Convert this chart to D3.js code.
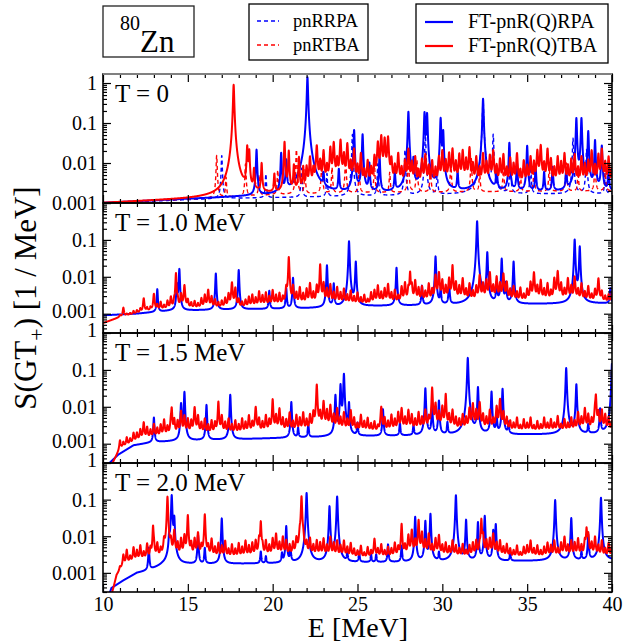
<!DOCTYPE html>
<html>
<head>
<meta charset="utf-8">
<script src="https://cdn.jsdelivr.net/npm/d3@7"></script>
<style>
  body { margin: 0; background: #fff; }
  svg { display: block; }
  text { font-family: "Liberation Serif", "Times New Roman", Times, serif; fill: #000; }
</style>
</head>
<body>
<svg id="chart" width="624" height="644"></svg>
<script>
// ---------------------------------------------------------------
// Gamow-Teller (GT+) strength functions of 80Zn at four temperatures
// Each curve = smooth background (knots [E, S]) + discrete states
// [E, peak height], folded with a narrow Lorentzian. The TBA curves
// also carry a comb of fragmented states every 0.2 MeV (heights in 1e-3 /MeV).
// ---------------------------------------------------------------

const energyTicks = [10, 15, 20, 25, 30, 35, 40];
const panelLabels = ["T = 0", "T = 1.0 MeV", "T = 1.5 MeV", "T = 2.0 MeV"];
const yTickLabels = [1, 0.1, 0.01, 0.001];
const seriesNames = ["pnRRPA", "pnRTBA", "FT-pnR(Q)RPA", "FT-pnR(Q)TBA"];

// ---------- T = 0 : pnRRPA (dashed blue) ----------
const rrpaT0Base = [[10, 0.001], [17, 0.0013], [22, 0.0014], [30, 0.0016], [40, 0.0017]];
const rrpaT0Peaks = [[17.0, 0.014], [19.6, 0.004], [21.7, 0.006], [23.2, 0.004], [24.7, 0.05],
  [26.2, 0.008], [27.8, 0.02], [29.0, 0.05], [29.7, 0.004], [32.4, 0.4], [33.0, 0.05],
  [34.0, 0.01], [35.2, 0.008], [37.7, 0.04], [38.5, 0.02], [39.6, 0.004]];

// ---------- T = 0 : pnRTBA (dashed red) ----------
const rtbaT0Base = [[10, 0.001], [16, 0.0013], [20, 0.0016], [25, 0.0018], [40, 0.002]];
const rtbaT0Peaks = [[16.7, 0.014], [17.25, 0.003], [18.4, 0.008], [19.2, 0.0035], [20.3, 0.005],
  [21.4, 0.02], [21.9, 0.005], [22.9, 0.01], [23.5, 0.006], [24.3, 0.012], [25.1, 0.005],
  [26.0, 0.007], [26.9, 0.004], [28.0, 0.012], [28.5, 0.01], [29.3, 0.006], [30.5, 0.008],
  [31.7, 0.012], [32.2, 0.004], [33.6, 0.006], [34.6, 0.004], [35.4, 0.005], [36.3, 0.006],
  [37.3, 0.008], [38.0, 0.004], [39.0, 0.008], [39.6, 0.005]];

// ---------- T = 0 : FT-pnR(Q)RPA (solid blue) ----------
const ftRpaT0Base = [[10, 0.001], [15, 0.00125], [18, 0.0014], [21, 0.0015], [25, 0.0017], [30, 0.0018], [40, 0.0019]];
const ftRpaT0Peaks = [[19.05, 0.02], [20.5, 0.016], [20.8, 0.01], [22.05, 1.4], [23.0, 0.003],
  [23.9, 0.005], [24.8, 0.065], [25.3, 0.05], [25.7, 0.008], [26.3, 0.013], [27.2, 0.004],
  [28.0, 0.19], [28.3, 0.01], [28.95, 0.18], [29.1, 0.17], [29.9, 0.13], [30.05, 0.06],
  [30.9, 0.004], [32.4, 0.4], [33.2, 0.006], [33.95, 0.03], [34.4, 0.008], [35.0, 0.025],
  [35.5, 0.006], [36.0, 0.004], [36.5, 0.006], [37.3, 0.005], [37.9, 0.13], [38.2, 0.13],
  [38.6, 0.06], [39.0, 0.035], [39.4, 0.025], [39.8, 0.005]];

// ---------- T = 0 : FT-pnR(Q)TBA (solid red) ----------
const ftTbaT0Base = [[10, 0.001], [15, 0.00125], [17, 0.0014], [19, 0.0016], [21, 0.0017], [24, 0.0018], [40, 0.0019]];
const ftTbaT0Peaks = [[17.7, 0.9], [18.5, 0.024], [18.62, 0.018], [18.9, 0.005], [19.35, 0.008],
  [20.1, 0.0035], [20.7, 0.032], [20.95, 0.018], [21.25, 0.007], [21.55, 0.012], [21.8, 0.006]];
const ftTbaT0FragStart = 22.0;
const ftTbaT0Frag = [
  6, 12, 5, 25, 9,     18, 6, 22, 30, 10,    35, 14, 28, 8, 20,    6, 15, 4, 9, 5,
  12, 30, 45, 38, 42,  10, 6, 15, 5, 9,      20, 8, 12, 4, 10,     14, 6, 9, 5, 12,
  18, 9, 15, 20, 8,    14, 18, 10, 22, 7,    12, 5, 15, 8, 13,     18, 6, 10, 14, 5,
  11, 7, 15, 4, 9,     6, 12, 8, 18, 25,     7, 20, 10, 5, 12,     8, 15, 6, 10, 14,
  5, 12, 7, 9, 18,     6, 14, 20, 8, 12,     5];

// ---------- T = 1.0 MeV ----------
const ftRpaT10Base = [[10, 0.0009], [12, 0.001], [14, 0.0012], [18, 0.0013], [22, 0.0014], [26, 0.0016], [30, 0.0017], [35, 0.0018], [40, 0.0019]];
const ftRpaT10Peaks = [[13.2, 0.0035], [14.35, 0.005], [14.5, 0.015], [16.65, 0.011], [18.0, 0.014],
  [19.8, 0.0028], [20.8, 0.0035], [21.2, 0.008], [23.2, 0.019], [23.6, 0.005], [24.5, 0.09],
  [24.9, 0.024], [27.3, 0.016], [28.8, 0.004], [29.6, 0.034], [29.9, 0.003], [30.4, 0.005],
  [32.05, 0.32], [32.65, 0.044], [33.2, 0.005], [33.5, 0.029], [33.75, 0.005], [34.2, 0.024],
  [37.8, 0.1], [38.1, 0.064], [39.9, 0.003]];
const ftTbaT10Base = [[10, 0.00055], [11, 0.0008], [12, 0.001], [13, 0.0012], [15, 0.0013], [20, 0.0014], [25, 0.0016], [30, 0.0018], [40, 0.0019]];
const ftTbaT10Peaks = [[14.3, 0.011], [20.95, 0.032], [22.8, 0.018], [28.1, 0.011], [30.6, 0.015]];
const ftTbaT10FragStart = 10.0;
const ftTbaT10Frag = [
  0, 0, 0, 0, 0,           0.1, 0.6, 0.1, 0.1, 0.2,   0.2, 0.3, 1.5, 0.3, 0.3,   2.2, 0.5, 0.8, 0.4, 0.9,
  1.5, 0.8, 1, 2, 4.5,     1, 0.6, 0.8, 0.5, 1.2,     1.8, 3, 1.5, 1, 0.6,       0.8, 1.2, 2, 5.5, 3.5,
  1, 0.6, 0.9, 1.4, 1.8,   1.2, 2.5, 1.6, 2.2, 1.4,   2.8, 1.6, 2, 1.2, 3.2,     1.5, 4, 2, 3.5, 1.8,
  3, 5, 2, 4, 2,           5, 3, 4.5, 2, 3.5,         2, 3, 1.5, 2.5, 1.2,       2, 1, 1.5, 0.7, 2,
  2.5, 4, 2, 3, 4.5,       1.8, 2.5, 1.2, 3.5, 5,     3, 4, 6, 3, 3.5,           2, 4.5, 2.5, 9, 11,
  6, 3.5, 7, 3.5, 5,       3.5, 7, 2.5, 4.5, 2,       3.5, 9, 4.5, 6, 11,        3.5, 8, 4.5, 10, 5,
  2.5, 3.5, 1.8, 3, 1.3,   2.5, 5, 11, 3.5, 6,        2.5, 4.5, 2, 7, 12,        4.5, 2.5, 7, 3.5, 8,
  2.5, 4.5, 1.8, 3.5, 1.3, 2.5, 7, 2, 1, 1.3,         2];

// ---------- T = 1.5 MeV ----------
const ftRpaT15Base = [[10, 0.0002], [10.9, 0.0005], [11.8, 0.0009], [13, 0.0011], [15, 0.0012], [20, 0.0014], [26, 0.0016], [30, 0.0017], [40, 0.0018]];
const ftRpaT15Peaks = [[13.0, 0.004], [14.6, 0.011], [14.8, 0.024], [16.1, 0.01], [17.5, 0.02],
  [21.1, 0.012], [21.5, 0.0012], [22.1, 0.002], [23.7, 0.019], [24.0, 0.038], [24.2, 0.076],
  [24.5, 0.011], [25.0, 0.002], [26.5, 0.007], [27.5, 0.002], [28.3, 0.0015], [29.0, 0.03],
  [29.4, 0.009], [29.8, 0.013], [30.3, 0.002], [31.5, 0.21], [32.1, 0.032], [32.9, 0.024],
  [33.2, 0.004], [33.55, 0.029], [33.9, 0.002], [37.3, 0.11], [37.9, 0.039], [38.6, 0.0015],
  [39.3, 0.007], [40.0, 0.15]];
const ftTbaT15Base = [[10.4, 0.0002], [11, 0.0007], [12, 0.0011], [13, 0.0013], [15, 0.0015], [20, 0.0017], [25, 0.0018], [30, 0.0019], [40, 0.002]];
const ftTbaT15Peaks = [[14.05, 0.007], [16.8, 0.009], [20.0, 0.011], [22.6, 0.03], [29.4, 0.026], [30.2, 0.016], [39.05, 0.017]];
const ftTbaT15FragStart = 10.0;
const ftTbaT15Frag = [
  0, 0, 0, 0, 0,           0.5, 0.3, 0.6, 0.4, 0.9,   0.8, 1.2, 2.5, 1.5, 1,     2, 1.2, 1.8, 3, 1.4,
  2.5, 3, 2.5, 6, 4,       3, 2.5, 8, 4, 2,           3, 1.5, 2.5, 2, 3,         4, 2, 3, 1.5, 2.5,
  1.5, 3, 2, 4, 2,         8, 3, 2, 4, 2.5,           3, 4, 7, 3, 2.5,           5, 2, 4, 3, 5,
  2.5, 4, 5, 8, 5,         12, 6, 9, 4, 7,            3, 5, 2.5, 6, 3,           1.5, 4, 2, 3, 1.5,
  2, 1, 8, 3, 2,           4, 2.5, 5, 7, 3,           6, 4, 2.5, 5, 3,           6, 3, 5, 10, 5,
  8, 4, 4, 6, 3,           2.5, 4, 3, 7, 10,          6, 11, 4, 3, 6,            2.5, 8, 14, 5, 3,
  2, 1.5, 3, 1, 2.5,       1.5, 3, 1, 2, 1.2,         3, 1.5, 2.5, 1.5, 3.5,     1.2, 2.5, 1.5, 3, 2,
  5, 3, 7, 4, 2.5,         6, 5, 6, 4, 3,             2];

// ---------- T = 2.0 MeV ----------
const ftRpaT20Base = [[10.3, 0.0002], [10.5, 0.00037], [11.2, 0.0006], [12, 0.00097], [12.6, 0.0011], [13.5, 0.0015], [15, 0.0017], [20, 0.0018], [25, 0.0019], [30, 0.002], [35, 0.0021], [40, 0.0022]];
const ftRpaT20Peaks = [[12.7, 0.0037], [13.9, 0.007], [14.05, 0.13], [14.2, 0.03], [15.6, 0.009],
  [16.0, 0.003], [17.0, 0.029], [19.3, 0.002], [19.6, 0.001], [20.55, 0.0015], [20.8, 0.017],
  [21.05, 0.003], [22.0, 0.15], [23.35, 0.064], [23.8, 0.12], [24.4, 0.0015], [25.1, 0.0018],
  [25.8, 0.0012], [26.1, 0.0012], [26.8, 0.004], [27.6, 0.0035], [28.4, 0.032], [29.0, 0.024],
  [29.3, 0.039], [29.8, 0.0015], [30.8, 0.13], [31.4, 0.026], [32.1, 0.022], [32.5, 0.034],
  [33.0, 0.012], [33.15, 0.019], [34.0, 0.0015], [36.65, 0.095], [37.6, 0.029], [38.2, 0.0015],
  [38.6, 0.009], [39.35, 0.11]];
const ftTbaT20Base = [[10.5, 0.0002], [10.8, 0.0008], [11.2, 0.0015], [12, 0.0019], [15, 0.0021], [20, 0.0023], [25, 0.0023], [30, 0.0024], [40, 0.0024]];
const ftTbaT20Peaks = [[12.95, 0.016], [13.8, 0.11], [15.0, 0.03], [16.0, 0.032], [19.3, 0.022],
  [21.7, 0.12], [27.6, 0.014], [28.6, 0.018], [32.3, 0.026], [38.5, 0.013]];
const ftTbaT20FragStart = 10.0;
const ftTbaT20Frag = [
  0, 0, 0, 0, 0,           0.3, 1.5, 2.5, 1, 3,       2, 3.5, 1.5, 4, 2.5,       3, 4, 2, 5, 8,
  5, 12, 4, 6, 8,          5, 4, 6, 10, 3,            5, 3, 6, 2.5, 4,           3, 5, 2, 3.5, 2,
  4, 2.5, 5, 3, 4,         5, 6, 3, 5, 3,             6, 9, 4, 7, 5,             3, 4, 6, 8, 5,
  4, 6, 3, 5, 4,           6, 3, 7, 4, 5,             3, 5, 2.5, 4, 2,           1.5, 3, 1, 2.5, 1.5,
  6, 2, 3.5, 1.5, 2.5,     2, 4, 2.5, 5, 3,           8, 12, 5, 7, 10,           5, 9, 3, 6, 8,
  3, 4, 2.5, 5, 3,         2, 3.5, 1.5, 3, 4,         5, 3, 8, 5, 6,             9, 4, 5, 2.5, 3.5,
  2, 1.5, 3, 1, 2.5,       3, 5, 2, 3, 1.5,           2.5, 4, 3, 5, 2,           4, 7, 3, 5, 4,
  6, 3, 5, 9, 4,           7, 3, 5, 2, 4,             3];

// ---------------------------------------------------------------
// Layout
// ---------------------------------------------------------------
const plotLeft = 103, plotRight = 612;
const panelTop = [74, 203, 333, 463];
const panelBottom = [203, 333, 463, 592];
const panelDomains = [[0.001, 1.68], [0.0003, 1], [0.0003, 1], [0.0003, 1]];
const BLUE = "#0000ff", RED = "#ff0000";
const SERIF = "Liberation Serif, Times New Roman, Times, serif";
const peakWidth = 0.03;   // Lorentzian half width of the discrete states (MeV)
const fragWidth = 0.04;   // half width of the fragmented TBA states (MeV)
const fragStep = 0.2;

const panels = [
  { label: panelLabels[0], curves: [
    { base: rrpaT0Base, peaks: rrpaT0Peaks, color: BLUE, dashed: true },
    { base: rtbaT0Base, peaks: rtbaT0Peaks, color: RED, dashed: true },
    { base: ftRpaT0Base, peaks: ftRpaT0Peaks, color: BLUE },
    { base: ftTbaT0Base, peaks: ftTbaT0Peaks, frag: ftTbaT0Frag, fragStart: ftTbaT0FragStart, color: RED } ] },
  { label: panelLabels[1], curves: [
    { base: ftRpaT10Base, peaks: ftRpaT10Peaks, color: BLUE },
    { base: ftTbaT10Base, peaks: ftTbaT10Peaks, frag: ftTbaT10Frag, fragStart: ftTbaT10FragStart, color: RED } ] },
  { label: panelLabels[2], curves: [
    { base: ftRpaT15Base, peaks: ftRpaT15Peaks, color: BLUE },
    { base: ftTbaT15Base, peaks: ftTbaT15Peaks, frag: ftTbaT15Frag, fragStart: ftTbaT15FragStart, color: RED } ] },
  { label: panelLabels[3], curves: [
    { base: ftRpaT20Base, peaks: ftRpaT20Peaks, color: BLUE },
    { base: ftTbaT20Base, peaks: ftTbaT20Peaks, frag: ftTbaT20Frag, fragStart: ftTbaT20FragStart, color: RED } ] }
];

// ---------------------------------------------------------------
// Strength function evaluation
// ---------------------------------------------------------------
function backgroundAt(knots, e) {
  if (e <= knots[0][0]) return knots[0][1];
  for (let i = 1; i < knots.length; i++) {
    if (e <= knots[i][0]) {
      const [e0, v0] = knots[i - 1], [e1, v1] = knots[i];
      const t = (e - e0) / (e1 - e0);
      return Math.exp(Math.log(v0) + t * (Math.log(v1) - Math.log(v0)));
    }
  }
  return knots[knots.length - 1][1];
}

function strengthAt(c, e) {
  let s = backgroundAt(c.base, e);
  const w2 = peakWidth * peakWidth;
  for (const [ep, hp] of c.peaks) {
    const d = e - ep;
    s += hp * w2 / (d * d + w2);
  }
  if (c.frag) {
    const f2 = fragWidth * fragWidth;
    for (let i = 0; i < c.frag.length; i++) {
      const h = c.frag[i] * 1e-3;
      if (!h) continue;
      const d = e - (c.fragStart + i * fragStep);
      s += h * f2 / (d * d + f2);
    }
  }
  return s;
}

const grid = d3.range(0, 6001).map(i => 10 + i * 0.005);
function sampleCurve(c) {
  const xs = grid.concat(c.peaks.map(p => p[0]))
    .filter(e => e >= 10 && e <= 40)
    .sort((a, b) => a - b);
  return xs.map(e => [e, strengthAt(c, e)]);
}

// ---------------------------------------------------------------
// Drawing
// ---------------------------------------------------------------
const svg = d3.select("#chart");
const x = d3.scaleLinear().domain([10, 40]).range([plotLeft, plotRight]);
const defs = svg.append("defs");

panels.forEach((p, k) => {
  const y = d3.scaleLog().domain(panelDomains[k]).range([panelBottom[k], panelTop[k]]);
  const g = svg.append("g").attr("class", "panel");

  defs.append("clipPath").attr("id", "clip" + k)
    .append("rect")
    .attr("x", plotLeft).attr("y", panelTop[k])
    .attr("width", plotRight - plotLeft).attr("height", panelBottom[k] - panelTop[k]);

  const line = d3.line()
    .x(d => x(d[0]))
    .y(d => y(Math.max(d[1], 1e-6)));

  const curveLayer = g.append("g").attr("clip-path", `url(#clip${k})`);
  p.curves.forEach(c => {
    curveLayer.append("path")
      .datum(sampleCurve(c))
      .attr("d", line)
      .attr("fill", "none")
      .attr("stroke", c.color)
      .attr("stroke-width", c.dashed ? 1.4 : 2)
      .attr("stroke-dasharray", c.dashed ? "4,3" : null)
      .attr("stroke-linejoin", "round");
  });

  // y axes: major decades (labelled on the left) and log minor ticks
  const [lo, hi] = panelDomains[k];
  const majors = yTickLabels.filter(v => v >= lo && v <= hi);
  const minors = [];
  for (let dec = -4; dec <= 0; dec++) {
    for (let m = 2; m <= 9; m++) {
      const v = m * Math.pow(10, dec);
      if (v > lo && v < hi) minors.push(v);
    }
  }

  const leftMajor = g.append("g").attr("transform", `translate(${plotLeft},0)`)
    .call(d3.axisLeft(y).tickValues(majors).tickFormat(d => String(d))
      .tickSizeInner(-8).tickSizeOuter(0).tickPadding(6));
  g.append("g").attr("transform", `translate(${plotLeft},0)`)
    .call(d3.axisLeft(y).tickValues(minors).tickFormat("").tickSizeInner(-4).tickSizeOuter(0));
  g.append("g").attr("transform", `translate(${plotRight},0)`)
    .call(d3.axisRight(y).tickValues(majors).tickFormat("").tickSizeInner(-8).tickSizeOuter(0));
  g.append("g").attr("transform", `translate(${plotRight},0)`)
    .call(d3.axisRight(y).tickValues(minors).tickFormat("").tickSizeInner(-4).tickSizeOuter(0));

  leftMajor.selectAll("text")
    .attr("font-size", 20)
    .attr("font-family", SERIF)
    .attr("fill", "#000")
    .attr("dy", "0.34em")
    .each(function (d) {
      const t = d3.select(this);
      if (d === 1 && k === 1) t.remove();                    // shares the line with 0.001 above
      else if (d === 1 && k > 1) t.attr("transform", "translate(0,-3)");
      else if (d === 0.001 && (k === 1 || k === 2)) t.attr("transform", "translate(0,-3)");
    });

  // x ticks along top and bottom edges of each panel
  const xMinor = d3.range(10, 41, 1).filter(v => v % 5 !== 0);
  [[panelTop[k], d3.axisTop], [panelBottom[k], d3.axisBottom]].forEach(([yy, ax]) => {
    g.append("g").attr("transform", `translate(0,${yy})`)
      .call(ax(x).tickValues(energyTicks).tickFormat("").tickSizeInner(-8).tickSizeOuter(0));
    g.append("g").attr("transform", `translate(0,${yy})`)
      .call(ax(x).tickValues(xMinor).tickFormat("").tickSizeInner(-4).tickSizeOuter(0));
  });

  g.selectAll(".domain").remove();
  g.selectAll(".tick line").attr("stroke", "#000").attr("stroke-width", 1.2);

  // frame
  g.append("rect")
    .attr("x", plotLeft).attr("y", panelTop[k])
    .attr("width", plotRight - plotLeft).attr("height", panelBottom[k] - panelTop[k])
    .attr("fill", "none").attr("stroke", "#000").attr("stroke-width", 1.6);

  g.append("text")
    .attr("x", 115).attr("y", panelTop[k] + 28)
    .attr("font-size", 25)
    .text(p.label);
});

// lighter top edge of the upper panel
svg.append("line")
  .attr("x1", plotLeft).attr("x2", plotRight)
  .attr("y1", panelTop[0]).attr("y2", panelTop[0])
  .attr("stroke", "#808080").attr("stroke-width", 1.8);

// x tick labels under the lowest panel
const xLabels = svg.append("g").attr("transform", `translate(0,${panelBottom[3]})`)
  .call(d3.axisBottom(x).tickValues(energyTicks).tickFormat(d3.format("d"))
    .tickSize(0).tickPadding(5));
xLabels.select(".domain").remove();
xLabels.selectAll("text")
  .attr("font-size", 20)
  .attr("font-family", SERIF)
  .attr("fill", "#000");

// axis titles
svg.append("text")
  .attr("x", 358).attr("y", 637)
  .attr("text-anchor", "middle")
  .attr("font-size", 28)
  .text("E [MeV]");

const yTitle = svg.append("text")
  .attr("transform", "translate(36,298) rotate(-90)")
  .attr("text-anchor", "middle")
  .attr("font-size", 31);
yTitle.append("tspan").text("S(GT");
yTitle.append("tspan").attr("font-size", 22).attr("dy", 8).text("+");
yTitle.append("tspan").attr("dy", -8).text(") [1 / MeV]");

// nucleus box
svg.append("rect").attr("x", 103).attr("y", 6).attr("width", 91).attr("height", 51)
  .attr("fill", "#fff").attr("stroke", "#222").attr("stroke-width", 1.3);
const nuc = svg.append("text").attr("x", 120).attr("y", 52);
nuc.append("tspan").attr("font-size", 20).attr("dy", -22).text("80");
nuc.append("tspan").attr("font-size", 31).attr("dy", 22).text("Zn");

// legends
function legendBox(bx, by, bw, bh, items, fontSize, lineX0, lineX1, textX, rowY) {
  svg.append("rect").attr("x", bx).attr("y", by).attr("width", bw).attr("height", bh)
    .attr("fill", "#fff").attr("stroke", "#000").attr("stroke-width", 1.3);
  items.forEach((it, i) => {
    svg.append("line")
      .attr("x1", lineX0).attr("x2", lineX1)
      .attr("y1", rowY[i]).attr("y2", rowY[i])
      .attr("stroke", it.color)
      .attr("stroke-width", it.dashed ? 1.3 : 2.2)
      .attr("stroke-dasharray", it.dashed ? "4,3" : null);
    svg.append("text")
      .attr("x", textX).attr("y", rowY[i] + 6)
      .attr("font-size", fontSize)
      .text(it.name);
  });
}
legendBox(249, 4, 119, 56,
  [{ name: seriesNames[0], color: BLUE, dashed: true }, { name: seriesNames[1], color: RED, dashed: true }],
  18.5, 257, 279, 293, [21, 45]);
legendBox(416, 4, 192, 59,
  [{ name: seriesNames[2], color: BLUE }, { name: seriesNames[3], color: RED }],
  20, 425, 453, 468, [22, 46]);
</script>
</body>
</html>
